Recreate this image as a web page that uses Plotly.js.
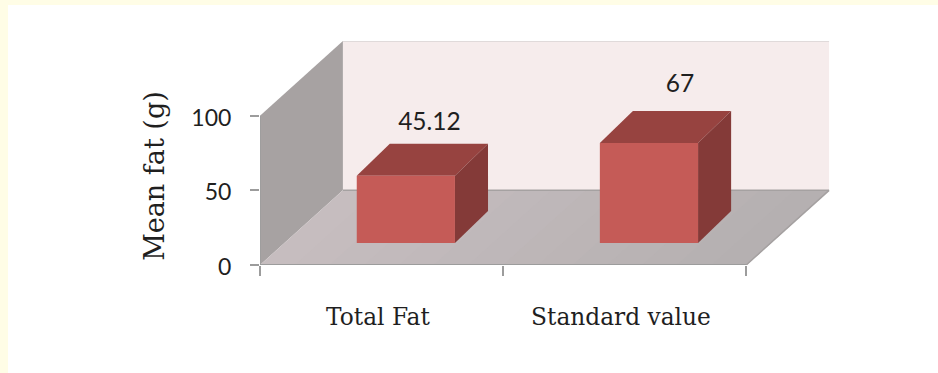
<!DOCTYPE html>
<html>
<head>
<meta charset="utf-8">
<script src="https://cdn.plot.ly/plotly-3.0.1.min.js"></script>
<style>
  html, body { margin: 0; padding: 0; width: 938px; height: 373px; background: #fffde6; overflow: hidden; }
  #chart { position: absolute; left: 8px; top: 5px; width: 930px; height: 368px; }
</style>
</head>
<body>
<div id="chart"></div>
<script>
// Mean fat intake against the standard value
const categories = ['Total Fat', 'Standard value'];
const values = [45.12, 67];
const valueLabels = ['45.12', '67'];
const yTicks = [0, 50, 100];
const yTickLabels = ['0', '50', '100'];
const xEdges = [0, 1, 2];

// Pseudo-3D geometry, in axis units
const xMax = 2.353;
const yMax = 150;
const wallDX = 0.341;   // shift of the back wall from the front of the floor
const wallDY = 50;
const barOffset = 0.6;  // front-face centre inside each category slot
const barWidth = 0.404;
const barBase = 14.7;   // front face stands forward of the floor's back edge
const barDX = 0.136;    // depth of a bar
const barDY = 21.4;
const labelDX = [0.097, 0.128];
const labelLift = [34.8, 38.5];
const catLabelPos = [0.485, 1.485];
const floorStrips = 14;

const colors = {
  wall: '#f6ecec', wallEdge: '#d9d4d4', side: '#a7a2a2', floorEdge: '#a5a1a1',
  axis: '#9c9c9c', front: '#c55b57', top: '#974340', right: '#843a38', text: '#1f1f1f'
};

function polygon(pts, fill, edge) {
  const path = pts.map((p, i) => (i ? 'L' : 'M') + p[0] + ',' + p[1]).join(' ') + ' Z';
  return { type: 'path', path, xref: 'x', yref: 'y', layer: 'below', fillcolor: fill,
           line: edge ? { color: edge, width: 1 } : { width: 0 } };
}

const shapes = [
  polygon([[wallDX, wallDY], [wallDX, wallDY + 100], [2 + wallDX, wallDY + 100], [2 + wallDX, wallDY]], colors.wall),
  polygon([[0, 0], [0, 100], [wallDX, wallDY + 100], [wallDX, wallDY]], colors.side)
];

// The floor shades from light on the left to darker on the right
for (let k = 0; k < floorStrips; k++) {
  const t = k / (floorStrips - 1);
  const a = 2 * k / floorStrips;
  const shade = `rgb(${Math.round(198 - 17 * t)},${Math.round(189 - 13 * t)},${Math.round(191 - 14 * t)})`;
  shapes.push(polygon([[a, 0], [a + wallDX, wallDY], [2 + wallDX, wallDY], [2, 0]], shade));
}

shapes.push(
  { type: 'line', xref: 'x', yref: 'y', layer: 'below', x0: wallDX, x1: 2 + wallDX, y0: wallDY + 100, y1: wallDY + 100,
    line: { color: colors.wallEdge, width: 1.5 } },
  { type: 'line', xref: 'x', yref: 'y', layer: 'below', x0: wallDX, x1: 2 + wallDX, y0: wallDY, y1: wallDY,
    line: { color: colors.floorEdge, width: 1.5 } },
  { type: 'line', xref: 'x', yref: 'y', layer: 'below', x0: 2, x1: 2 + wallDX, y0: 0, y1: wallDY,
    line: { color: colors.floorEdge, width: 1.5 } }
);

// Top and right faces of every bar follow from its value
values.forEach((v, i) => {
  const xl = i + barOffset - barWidth / 2;
  const xr = i + barOffset + barWidth / 2;
  const yt = barBase + v;
  shapes.push(polygon([[xl, yt], [xl + barDX, yt + barDY], [xr + barDX, yt + barDY], [xr, yt]], colors.top));
  shapes.push(polygon([[xr, barBase], [xr, yt], [xr + barDX, yt + barDY], [xr + barDX, barBase + barDY]], colors.right));
});

const traces = [
  { type: 'bar', x: values.map((_, i) => i + barOffset), y: values, base: barBase, width: barWidth,
    marker: { color: colors.front, line: { width: 0 } }, hoverinfo: 'y', showlegend: false },
  { type: 'scatter', mode: 'lines', x: [xEdges[0], xEdges[xEdges.length - 1]], y: [0, 0], cliponaxis: false,
    line: { color: colors.axis, width: 2 }, hoverinfo: 'skip', showlegend: false },
  { type: 'scatter', mode: 'lines', x: [0, 0], y: [0, 100], cliponaxis: false,
    line: { color: colors.axis, width: 1.5 }, hoverinfo: 'skip', showlegend: false },
  { type: 'scatter', mode: 'text', x: values.map((_, i) => i + barOffset + labelDX[i]),
    y: values.map((v, i) => barBase + v + labelLift[i]),
    text: valueLabels, textposition: 'middle center', cliponaxis: false,
    textfont: { family: 'Lato, sans-serif', size: 24.5, color: colors.text }, hoverinfo: 'skip', showlegend: false }
];

const layout = {
  width: 930, height: 368,
  margin: { l: 252, r: 930 - 252 - 572, t: 35.5, b: 107.5 },
  paper_bgcolor: '#ffffff', plot_bgcolor: 'rgba(0,0,0,0)',
  showlegend: false,
  font: { family: 'Lato, sans-serif', color: colors.text },
  xaxis: {
    range: [0, xMax], showgrid: false, zeroline: false, showline: false,
    tickmode: 'array', tickvals: catLabelPos, ticktext: categories,
    ticks: '', ticklabelstandoff: 36, tickangle: 0,
    tickfont: { family: '"DejaVu Serif", serif', size: 23.3, color: colors.text },
    minor: { tickmode: 'array', tickvals: xEdges, ticks: 'outside', ticklen: 10, tickwidth: 2, tickcolor: colors.axis, showgrid: false }
  },
  yaxis: {
    range: [0, yMax], showgrid: false, zeroline: false, showline: false,
    tickmode: 'array', tickvals: yTicks, ticktext: yTickLabels,
    ticks: 'outside', ticklen: 9, tickwidth: 2, tickcolor: colors.axis, ticklabelstandoff: 14, ticklabelshift: 2,
    tickfont: { family: 'Lato, sans-serif', size: 23, color: colors.text }
  },
  shapes,
  annotations: [{
    text: 'Mean fat (g)', textangle: -90, showarrow: false,
    xref: 'paper', yref: 'paper', x: -0.1845, y: 0.4,
    xanchor: 'center', yanchor: 'middle',
    font: { family: '"DejaVu Serif", serif', size: 27, color: colors.text }
  }]
};

Plotly.newPlot('chart', traces, layout, { displayModeBar: false, staticPlot: true });
</script>
</body>
</html>
